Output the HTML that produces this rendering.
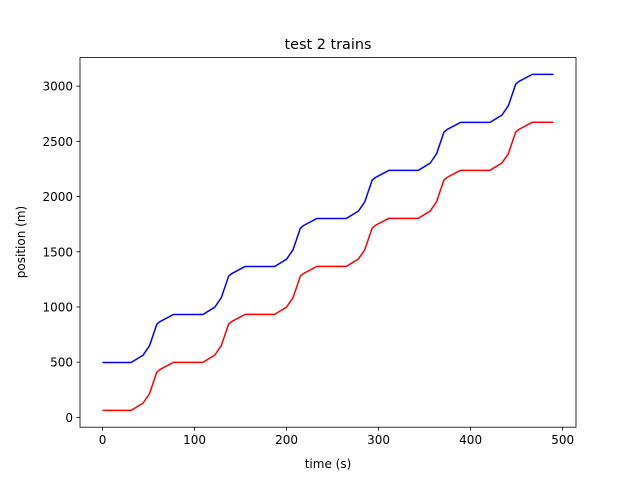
<!DOCTYPE html>
<html><head><meta charset="utf-8"><style>
body{margin:0;background:#fff;font-family:"DejaVu Sans","Liberation Sans",sans-serif}
text{font-family:"DejaVu Sans","Liberation Sans",sans-serif}
</style></head><body>
<svg id="chart" width="640" height="480" xmlns="http://www.w3.org/2000/svg">
<rect width="640" height="480" fill="#fff"/>
<text x="328" y="49" font-size="14.4" text-anchor="middle">test 2 trains</text>
<text x="328" y="468" font-size="12" text-anchor="middle">time (s)</text>
<text x="25" y="242" font-size="12" text-anchor="middle" transform="rotate(-90 25 242)">position (m)</text>
<g id="plot"></g>
<rect x="80" y="57.6" width="496" height="369.6" fill="none" stroke="#000" stroke-width="0.8"/>
</svg>
<script>
const times=[0,31,44,51,59,62.5,77,109,122,129,137,140.5,155,187,200,207,215,218.5,233,265,278,285,293,296.5,311,343,356,363,371,374.5,389,421,434,441,449,452.5,467,490];
const redPos=[63,63,129,214,410,434,498,498,564,649,845,869,933,933,999,1084,1280,1304,1368,1368,1434,1519,1715,1739,1803,1803,1869,1954,2150,2174,2238,2238,2304,2389,2585,2609,2673,2673];
const bluePos=[497,497,563,648,844,868,932,932,998,1083,1279,1303,1367,1367,1433,1518,1714,1738,1802,1802,1868,1953,2149,2173,2237,2237,2303,2388,2584,2608,2672,2672,2738,2823,3019,3043,3107,3107];
const xTicks=[0,100,200,300,400,500];
const yTicks=[0,500,1000,1500,2000,2500,3000];
const X0=80,X1=576,Y0=427.2,Y1=57.6;
const xMin=-24.5,xMax=514.5,yMin=-89,yMax=3259;
const sx=v=>X0+(v-xMin)/(xMax-xMin)*(X1-X0);
const sy=v=>Y0-(v-yMin)/(yMax-yMin)*(Y0-Y1);
const NS="http://www.w3.org/2000/svg";
const g=document.getElementById('plot');
function mk(t,a){const e=document.createElementNS(NS,t);for(const k in a)e.setAttribute(k,a[k]);return e;}
xTicks.forEach(v=>{
  const l=mk('line',{x1:sx(v),x2:sx(v),y1:Y0,y2:Y0+3.5,stroke:'#000','stroke-width':0.8});
  
  
  g.appendChild(l);
  const t=mk('text',{x:sx(v),y:Y0+17,'font-size':12,'text-anchor':'middle'});
  
  
  t.textContent=v;g.appendChild(t);
});
yTicks.forEach(v=>{
  const l=mk('line',{x1:X0-3.5,x2:X0,y1:sy(v),y2:sy(v),stroke:'#000','stroke-width':0.8});
  
  
  g.appendChild(l);
  const t=mk('text',{x:X0-7,y:sy(v)+4.5,'font-size':12,'text-anchor':'end'});
  
  
  t.textContent=v;g.appendChild(t);
});
function line(vals,color,name){
  const p=mk('polyline',{points:times.map((t,i)=>sx(t)+','+sy(vals[i])).join(' '),fill:'none',stroke:color,'stroke-width':1.5,'stroke-linejoin':'round'});
  
  
  g.appendChild(p);
}
line(bluePos,'#0000ff','train-2-line');
line(redPos,'#ff0000','train-1-line');
</script>
</body></html>
